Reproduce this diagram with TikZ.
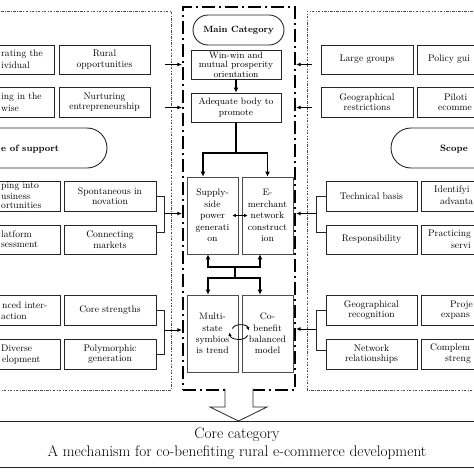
\documentclass[tikz,border=0pt]{standalone}
\usetikzlibrary{arrows.meta}
\begin{document}
\begin{tikzpicture}[x=1pt,y=-1pt,
  box/.style={draw=black!85,line width=0.9pt,inner sep=0pt,align=center,font=\fontsize{9.6}{10.6}\selectfont},
  narrowbox/.style={draw=black!70,line width=0.7pt,inner sep=0pt,align=center,font=\fontsize{9.4}{11.4}\selectfont},
  lfrag/.style={inner sep=0pt,anchor=west,font=\fontsize{9.6}{10.6}\selectfont},
  rfrag/.style={inner sep=0pt,anchor=west,font=\fontsize{9.6}{10.6}\selectfont},
  boldfrag/.style={inner sep=0pt,anchor=west,font=\fontsize{9.2}{11}\selectfont\bfseries},
  pill/.style={draw=black!85,line width=0.9pt,inner sep=0pt,rounded corners=20pt},
  framebox/.style={draw=black,line width=2.2pt,dash pattern=on 13pt off 4pt on 2pt off 4pt,inner sep=0pt},
  grp/.style={draw=black!70,line width=0.5pt,dash pattern=on 2.5pt off 1.5pt on 0.6pt off 1.5pt},
  conn/.style={draw=black!85,line width=0.8pt},
  sarr/.style={draw=black,line width=0.8pt,-{Latex[length=4.5pt,width=4pt]}},
  tarr/.style={draw=black,line width=1.8pt,-{Latex[length=5pt,width=5pt]}},
  tline/.style={draw=black,line width=1.8pt},
  darr/.style={draw=black,line width=0.9pt,{Latex[length=3.5pt,width=3.5pt]}-{Latex[length=3.5pt,width=3.5pt]}}
]
\useasboundingbox (0,0) rectangle (474,474);
\fill[white] (0,0) rectangle (474,474);
\clip (0,0) rectangle (474,474);

% group borders
\coordinate (g1) at (-5,11); \coordinate (g2) at (171,11);
\coordinate (g3) at (171,390); \coordinate (g4) at (-5,390);
\draw[grp] (g1) -- (g2) -- (g3) -- (g4);
\coordinate (h1) at (479,11); \coordinate (h2) at (307,11);
\coordinate (h3) at (307,390); \coordinate (h4) at (479,390);
\draw[grp] (h1) -- (h2) -- (h3) -- (h4);

% central frame
\node[framebox,minimum width=112pt,minimum height=383pt] (frame) at (239,198.5) {};

% left column
\node[box,minimum width=88pt,minimum height=29pt] (l1a) at (10,59.5) {};
\node[lfrag] (t1a) at (1,54) {rating the};
\node[lfrag] (t1b) at (1,65) {ividual};
\node[box,minimum width=91pt,minimum height=29pt] (l1b) at (104.5,59.5) {Rural\\opportunities};
\node[box,minimum width=88pt,minimum height=30pt] (l2a) at (10,102) {};
\node[lfrag] (t2a) at (1,97) {ing in the};
\node[lfrag] (t2b) at (1,108) {wise};
\node[box,minimum width=91pt,minimum height=30pt] (l2b) at (104.5,102) {Nurturing\\entrepreneurship};
\node[pill,minimum width=137pt,minimum height=40pt] (sl) at (38.5,148) {};
\node[boldfrag] (tsl) at (1,149) {e of support};
\node[box,minimum width=90pt,minimum height=30pt] (l3a) at (15,196) {};
\node[lfrag] (t3a) at (1,186) {ping into};
\node[lfrag] (t3b) at (1,196) {usiness};
\node[lfrag] (t3c) at (1,205.5) {ortunities};
\node[box,minimum width=92pt,minimum height=30pt] (l3b) at (110,196) {Spontaneous in\\novation};
\node[box,minimum width=90pt,minimum height=29pt] (l4a) at (15,239.5) {};
\node[lfrag] (t4a) at (1,234) {latform};
\node[lfrag] (t4b) at (1,245) {sessment};
\node[box,minimum width=92pt,minimum height=29pt] (l4b) at (110,239.5) {Connecting\\markets};
\node[box,minimum width=90pt,minimum height=30pt] (l5a) at (15,310) {};
\node[lfrag] (t5a) at (2,305) {nced inter-};
\node[lfrag] (t5b) at (1,316) {action};
\node[box,minimum width=92pt,minimum height=30pt] (l5b) at (110,310) {Core strengths};
\node[box,minimum width=90pt,minimum height=30pt] (l6a) at (15,354) {};
\node[lfrag] (t6a) at (1,348.5) {Diverse};
\node[lfrag] (t6b) at (2,360) {elopment};
\node[box,minimum width=92pt,minimum height=30pt] (l6b) at (110,354) {Polymorphic\\generation};

% right column
\node[box,minimum width=92pt,minimum height=29pt] (r1a) at (367,59.5) {Large groups};
\node[box,minimum width=93pt,minimum height=29pt] (r1b) at (463.5,59.5) {};
\node[rfrag] (u1a) at (428,59.5) {Policy gui};
\node[box,minimum width=92pt,minimum height=30pt] (r2a) at (367,102) {Geographical\\restrictions};
\node[box,minimum width=93pt,minimum height=30pt] (r2b) at (463.5,102) {};
\node[rfrag] (u2a) at (444,97) {Piloti};
\node[rfrag] (u2b) at (438,108) {ecomme};
\node[pill,minimum width=139pt,minimum height=40pt] (sr) at (460.5,148) {};
\node[boldfrag] (tsr) at (440,149) {Scope};
\node[box,minimum width=91pt,minimum height=30pt] (r3a) at (371.5,196) {Technical basis};
\node[box,minimum width=91pt,minimum height=30pt] (r3b) at (466.5,196) {};
\node[rfrag] (u3a) at (434,190) {Identifyi};
\node[rfrag] (u3b) at (440,201.5) {advanta};
\node[box,minimum width=91pt,minimum height=29pt] (r4a) at (371.5,239.5) {Responsibility};
\node[box,minimum width=91pt,minimum height=29pt] (r4b) at (466.5,239.5) {};
\node[rfrag] (u4a) at (428,234) {Practicing};
\node[rfrag] (u4b) at (451,245) {servi};
\node[box,minimum width=91pt,minimum height=30pt] (r5a) at (371.5,310) {Geographical\\recognition};
\node[box,minimum width=91pt,minimum height=30pt] (r5b) at (466.5,310) {};
\node[rfrag] (u5a) at (450,305) {Proje};
\node[rfrag] (u5b) at (441,316) {expans};
\node[box,minimum width=91pt,minimum height=30pt] (r6a) at (371.5,354) {Network\\relationships};
\node[box,minimum width=91pt,minimum height=30pt] (r6b) at (466.5,354) {};
\node[rfrag] (u6a) at (430,348.5) {Complem};
\node[rfrag] (u6b) at (445,360) {streng};

% central nodes
\node[draw=black!85,line width=0.9pt,rounded corners=15pt,minimum width=91pt,minimum height=30pt,inner sep=0pt,font=\fontsize{9}{10}\selectfont\bfseries] (main) at (238.5,30) {Main Category};
\node[box,minimum width=90pt,minimum height=29pt,font=\fontsize{9.2}{9.6}\selectfont] (ww) at (236,64.5) {Win-win and\\mutual prosperity\\orientation};
\node[box,minimum width=90pt,minimum height=29pt,font=\fontsize{9.2}{10.4}\selectfont] (ad) at (236,107.5) {Adequate body to\\promote};
\node[narrowbox,minimum width=51pt,minimum height=77pt] (sp) at (212.5,215.5) {Supply-\\side\\power\\generati\\on};
\node[narrowbox,minimum width=51pt,minimum height=77pt] (em) at (267.5,215.5) {E-\\merchant\\network\\construct\\ion};
\node[narrowbox,minimum width=51pt,minimum height=77pt] (ms) at (212.5,333.5) {Multi-\\state\\symbios\\is trend};
\node[narrowbox,minimum width=51pt,minimum height=77pt] (cb) at (267.5,333.5) {Co-\\benefit\\balanced\\model};

% central connectors
\draw[tarr,line width=1.5pt] (ww) -- (ad);
\coordinate (j1) at (236,153);
\draw[tline] (ad.south) -- (j1);
\draw[tarr] (j1) -| ([xshift=-9.5pt]sp.north);
\draw[tarr] (j1) -| (em.north);
\coordinate (j2) at (235,267);
\coordinate (j3) at (235,278);
\draw[tarr] (j2) -| ([xshift=-4.5pt]sp.south);
\draw[tarr] (j2) -| ([xshift=-7.5pt]em.south);
\draw[tline] (j2) -- (j3);
\draw[tarr] (j3) -| ([xshift=-4.5pt]ms.north);
\draw[tarr] (j3) -| ([xshift=-7.5pt]cb.north);
\draw[darr] ([xshift=-6pt]sp.east) -- ([xshift=6pt]em.west);
\draw[draw=black,line width=0.8pt,-{Latex[length=3.5pt,width=3.5pt]}] ([xshift=-6pt,yshift=5pt]ms.east) to[bend left=70] ([xshift=7pt,yshift=3pt]cb.west);
\draw[draw=black,line width=0.8pt,-{Latex[length=3.5pt,width=3.5pt]}] ([xshift=6pt,yshift=-2pt]cb.west) to[bend left=70] ([xshift=-9pt,yshift=1pt]ms.east);

% side connectors left
\coordinate (la1) at (165,64.5);
\coordinate (la2) at (165,107.5);
\draw[sarr] (la1) -- (la1 -| frame.west);
\draw[sarr] (la2) -- (la2 -| frame.west);
\coordinate (b1) at (164,232);
\draw[conn] (l3b.east) -| (b1) -- (b1 -| l4b.east);
\coordinate (b1m) at (164,213.5);
\draw[sarr] (b1m) -- (b1m -| frame.west);
\coordinate (b2) at (164,354);
\draw[conn] (l5b.east) -| (b2) -- (l6b.east);
\coordinate (b2m) at (164,330);
\draw[sarr] (b2m) -- (b2m -| frame.west);

% side connectors right
\coordinate (ra1) at (312,64.5);
\coordinate (ra2) at (312,107.5);
\draw[sarr] (ra1) -- (ra1 -| frame.east);
\draw[sarr] (ra2) -- (ra2 -| frame.east);
\coordinate (b3) at (316,232);
\draw[conn] (r3a.west) -| (b3) -- (b3 -| r4a.west);
\coordinate (b3m) at (316,213.5);
\draw[sarr] (b3m) -- (b3m -| frame.east);
\coordinate (b4) at (316,350);
\draw[conn] (r5a.west) -| (b4) -- (b4 -| r6a.west);
\coordinate (b4m) at (316,329);
\draw[sarr] (b4m) -- (b4m -| frame.east);

% core box and hollow arrow
\node[draw=black!85,line width=0.9pt,inner sep=0pt,minimum width=484pt,minimum height=46pt,align=center,font=\fontsize{15.3}{18}\selectfont] (core) at (237,444) {Core category\\A mechanism for co-benefiting rural e-commerce development};
\coordinate (a1) at (225,388.5); \coordinate (a2) at (225,407);
\coordinate (a3) at (210,407); \coordinate (a4) at (238.5,421);
\coordinate (a5) at (267,407); \coordinate (a6) at (253,407);
\coordinate (a7) at (253,388.5);
\fill[white] (a1) -- (a2) -- (a3) -- (a4) -- (a5) -- (a6) -- (a7) -- cycle;
\draw[draw=black!85,line width=0.8pt,line join=miter] (a1) -- (a2) -- (a3) -- (a4) -- (a5) -- (a6) -- (a7);
\end{tikzpicture}
\end{document}
